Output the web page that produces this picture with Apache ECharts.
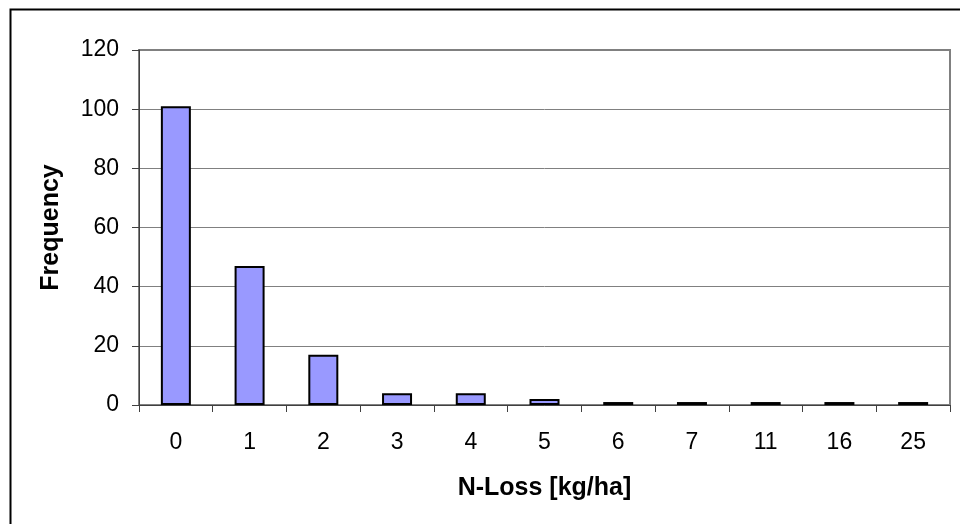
<!DOCTYPE html>
<html>
<head>
<meta charset="utf-8">
<script src="https://cdn.jsdelivr.net/npm/echarts@6/dist/echarts.min.js"></script>
<style>html,body{margin:0;padding:0;background:#fff;}#c{width:960px;height:524px;}</style>
</head>
<body>
<div id="c"></div>
<script>
const categories = ['0','1','2','3','4','5','6','7','11','16','25'];
const frequency = [101, 47, 17, 4, 4, 2, 1, 1, 1, 1, 1];
const yTicks = [0, 20, 40, 60, 80, 100, 120];

const chart = echarts.init(document.getElementById('c'), null, {renderer: 'canvas'});
const font = 'Liberation Sans, Arial, sans-serif';
chart.setOption({
  animation: false,
  backgroundColor: '#fff',
  graphic: [{
    type: 'rect', left: 8, top: 7, z: 100,
    shape: {width: 970, height: 540},
    style: {fill: 'none', stroke: '#000', lineWidth: 2}
  }],
  grid: {left: 139, right: 10, top: 50, bottom: 119, show: true, borderColor: '#808080', borderWidth: 2, backgroundColor: '#fff'},
  xAxis: {
    type: 'category', data: categories, boundaryGap: true,
    name: 'N-Loss [kg/ha]', nameLocation: 'middle', nameGap: 71,
    nameTextStyle: {fontFamily: font, fontSize: 25, fontWeight: 'bold', color: '#000'},
    axisLine: {lineStyle: {color: '#404040', width: 1}},
    axisTick: {show: true, length: 7, inside: false, alignWithLabel: false, lineStyle: {color: '#404040'}},
    axisLabel: {fontFamily: font, fontSize: 23, color: '#000', margin: 26},
    splitLine: {show: false}
  },
  yAxis: {
    type: 'value', min: yTicks[0], max: yTicks[yTicks.length - 1], interval: 20,
    name: 'Frequency', nameLocation: 'middle', nameGap: 75, nameRotate: 90,
    nameTextStyle: {fontFamily: font, fontSize: 25, fontWeight: 'bold', color: '#000'},
    axisLine: {show: true, lineStyle: {color: '#404040', width: 1}},
    axisTick: {show: true, length: 7, lineStyle: {color: '#404040'}},
    axisLabel: {fontFamily: font, fontSize: 23, color: '#000', margin: 20},
    splitLine: {show: true, lineStyle: {color: '#808080', width: 1}}
  },
  series: [{
    type: 'bar', data: frequency, barWidth: 30,
    itemStyle: {color: '#9999FF', borderColor: '#000', borderWidth: 2}
  }]
});
</script>
</body>
</html>
